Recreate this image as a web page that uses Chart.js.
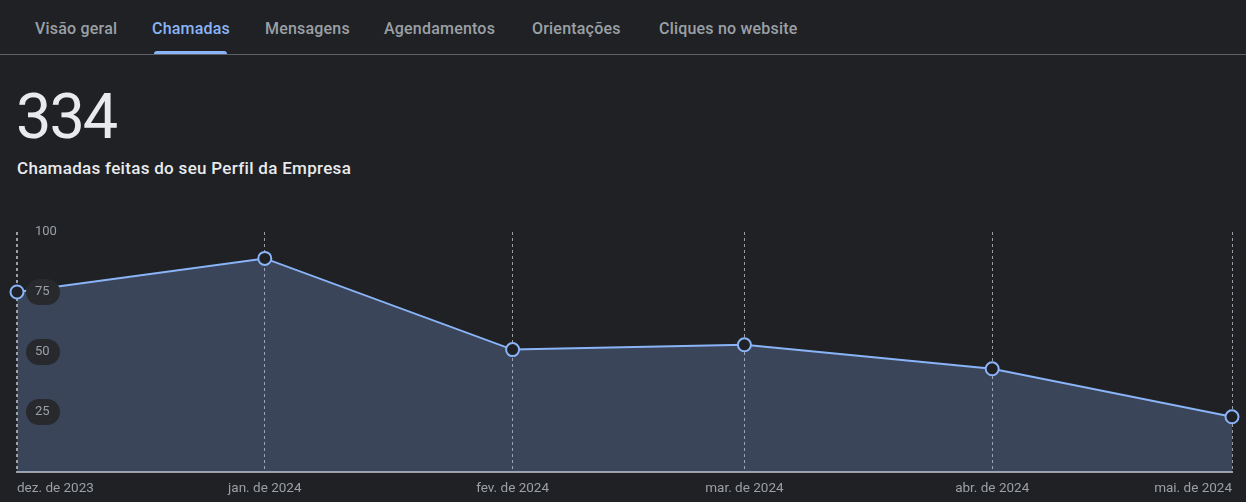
<!DOCTYPE html>
<html lang="pt">
<head>
<meta charset="UTF-8">
<title>Chamadas</title>
<script src="https://cdn.jsdelivr.net/npm/chart.js"></script>
<style>
  html, body { margin: 0; padding: 0; background: #202124; width: 1246px; height: 502px; overflow: hidden; font-family: Roboto, "Noto Sans", sans-serif; }
  .tab { position: absolute; top: 19px; font-size: 16px; font-weight: 500; color: #9aa0a6; white-space: nowrap; letter-spacing: 0.2px; }
  .tab.active { color: #8ab4f8; }
  #underline { position: absolute; left: 154px; top: 51px; width: 73px; height: 3px; background: #8ab4f8; border-radius: 3px 3px 0 0; }
  #sep { position: absolute; left: 0; top: 54px; width: 1246px; height: 1px; background: #5f6368; }
  #total { position: absolute; left: 16px; top: 79px; font-size: 63px; font-weight: 400; color: #e8eaed; line-height: 76px; letter-spacing: -2px; }
  #subtitle { position: absolute; left: 17px; top: 158px; font-size: 17px; font-weight: 500; color: #e8eaed; letter-spacing: 0.3px; }
  #wrap { position: absolute; left: 0; top: 200px; width: 1246px; height: 302px; }
</style>
</head>
<body>
  <div class="tab" style="left:35px">Visão geral</div>
  <div class="tab active" style="left:152px">Chamadas</div>
  <div class="tab" style="left:265px">Mensagens</div>
  <div class="tab" style="left:384px">Agendamentos</div>
  <div class="tab" style="left:532px">Orientações</div>
  <div class="tab" style="left:659px">Cliques no website</div>
  <div id="underline"></div>
  <div id="sep"></div>

  <div id="total">334</div>
  <div id="subtitle">Chamadas feitas do seu Perfil da Empresa</div>

  <div id="wrap"><canvas id="callsChart"></canvas></div>

<script>
// values
const months = ['dez. de 2023', 'jan. de 2024', 'fev. de 2024', 'mar. de 2024', 'abr. de 2024', 'mai. de 2024'];
const monthStarts = ['2023-12-01', '2024-01-01', '2024-02-01', '2024-03-01', '2024-04-01', '2024-05-01'];
const calls = [75, 89, 51, 53, 43, 23];
const yTicks = [25, 50, 75, 100];

// days since first month, so spacing follows the calendar
const day0 = Date.parse(monthStarts[0]);
const dayOffsets = monthStarts.map(d => Math.round((Date.parse(d) - day0) / 86400000));

// y labels with the dark pills, drawn from the y scale
const yLabels = {
    id: 'yLabels',
    afterDatasetsDraw(chart) {
        const ctx = chart.ctx;
        const y = chart.scales.y;
        const left = chart.chartArea.left;
        ctx.save();
        ctx.font = '13px Roboto, sans-serif';
        ctx.textBaseline = 'middle';
        ctx.textAlign = 'left';
        yTicks.forEach(v => {
            const py = y.getPixelForValue(v);
            if (v < 100) {
                ctx.fillStyle = '#28292c';
                ctx.beginPath();
                ctx.roundRect(left + 9, py - 13, 34, 26, 13);
                ctx.fill();
            }
            ctx.fillStyle = '#9aa0a6';
            ctx.fillText(String(v), left + 18, py);
        });
        ctx.restore();
    }
};

new Chart(document.getElementById('callsChart'), {
    type: 'line',
    data: {
        datasets: [{
            data: dayOffsets.map((d, i) => ({ x: d, y: calls[i] })),
            borderColor: '#8ab4f8',
            borderWidth: 2,
            backgroundColor: 'rgba(138,180,248,0.25)',
            fill: 'origin',
            tension: 0,
            pointRadius: 6.5,
            pointBorderWidth: 2,
            pointBackgroundColor: '#202124',
            pointBorderColor: '#8ab4f8',
            clip: false
        }]
    },
    options: {
        responsive: true,
        maintainAspectRatio: false,
        animation: false,
        layout: { padding: { left: 17, right: 14, top: 32, bottom: 0 } },
        plugins: { legend: { display: false }, tooltip: { enabled: false } },
        scales: {
            x: {
                type: 'linear',
                min: dayOffsets[0],
                max: dayOffsets[dayOffsets.length - 1],
                afterBuildTicks: s => { s.ticks = dayOffsets.map(v => ({ value: v })); },
                afterFit: s => { s.height = 30; },
                ticks: {
                    align: 'inner',
                    padding: 9,
                    maxRotation: 0,
                    autoSkip: false,
                    color: '#9aa0a6',
                    font: { family: 'Roboto', size: 13.5 },
                    callback: v => months[dayOffsets.indexOf(v)]
                },
                grid: {
                    drawTicks: false,
                    color: '#9aa0a6',
                    lineWidth: c => c.index === 0 ? 2 : 1
                },
                border: { display: true, color: '#9aa0a6', width: 2, dash: [3, 3] }
            },
            y: {
                display: false,
                min: 0,
                max: 100
            }
        }
    },
    plugins: [yLabels]
});
</script>
</body>
</html>
